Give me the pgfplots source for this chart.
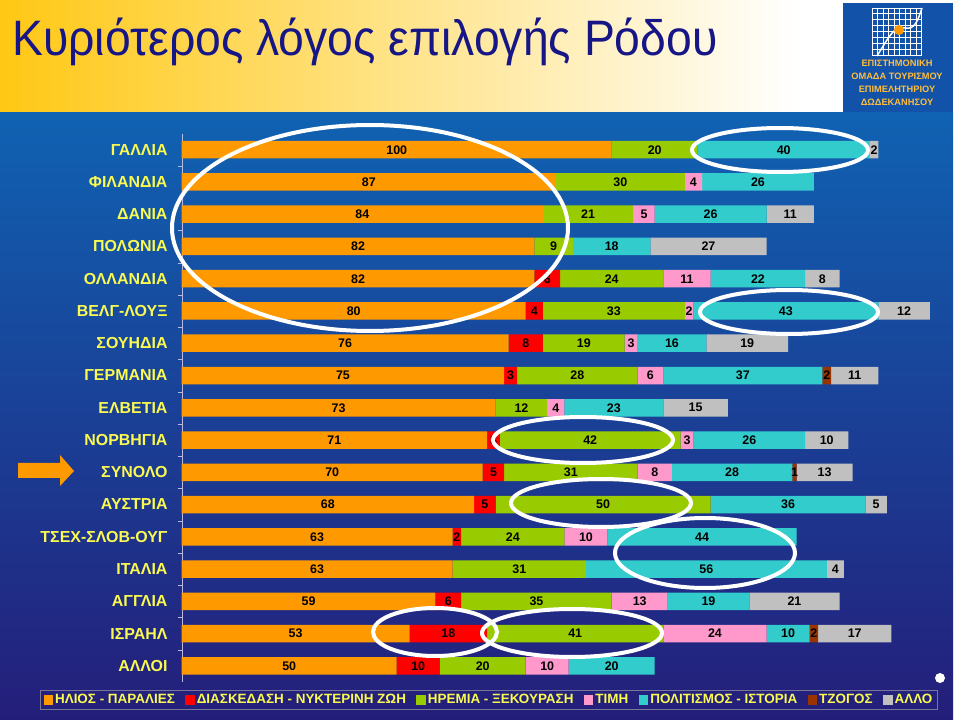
\documentclass[border=0pt]{standalone}
\usepackage{fontspec}
\setmainfont{Liberation Sans}
\usepackage{graphicx}
\usepackage{pgfplots}
\usepackage{pgfplotstable}
\pgfplotsset{compat=1.18}
\definecolor{sunc}{HTML}{FF9900}
\definecolor{entc}{HTML}{FF0000}
\definecolor{calmc}{HTML}{99CC00}
\definecolor{pricec}{HTML}{FF99CC}
\definecolor{cultc}{HTML}{33CCCC}
\definecolor{gambc}{HTML}{993300}
\definecolor{otherc}{HTML}{C0C0C0}
\definecolor{labyel}{RGB}{250,250,80}
\definecolor{titleblue}{RGB}{22,22,135}
\definecolor{bgtop}{RGB}{16,98,178}
\definecolor{bgbot}{RGB}{36,30,122}
\definecolor{logoblue}{RGB}{18,82,168}
\definecolor{logotext}{RGB}{255,190,60}
\pgfplotstableread{
idx sun ent calm price cult gamb other
0 100 0 20 0 40 0 2
1 87 0 30 4 26 0 0
2 84 0 21 5 26 0 11
3 82 0 9 0 18 0 27
4 82 6 24 11 22 0 8
5 80 4 33 2 43 0 12
6 76 8 19 3 16 0 19
7 75 3 28 6 37 2 11
8 73 0 12 4 23 0 15
9 71 3 42 3 26 0 10
10 70 5 31 8 28 1 13
11 68 5 50 0 36 0 5
12 63 2 24 10 44 0 0
13 63 0 31 0 56 0 4
14 59 6 35 13 19 0 21
15 53 18 41 24 10 2 17
16 50 10 20 10 20 0 0
}\data
\begin{document}
\begin{tikzpicture}
\useasboundingbox (0bp,0bp) rectangle (960bp,720bp);
\begin{scope}[x=1bp,y=1bp]
\fill[white] (0,0) rectangle (960,720);
\shade[left color={rgb,255:red,255;green,200;blue,20}, right color=white] (0,607) rectangle (800,720);
\shade[top color=bgtop, bottom color=bgbot] (0,0) rectangle (953,607);
% logo
\fill[logoblue] (843,608) rectangle (953,717);
\begin{scope}[white, line width=0.5bp]
\foreach \i in {0,...,9} {\draw (872+5.5*\i,665) -- (872+5.5*\i,712);}
\foreach \j in {0,...,8} {\draw (872,665+5.9*\j) -- (922,665+5.9*\j);}
\end{scope}
\draw[white, line width=1.5bp] (877,664) .. controls (890,685) and (895,695) .. (905,692) .. controls (915,690) and (918,700) .. (922,712);
\fill[sunc] (899,690) circle (5);
\node[logotext, font=\bfseries\fontsize{9.3}{13}\selectfont, align=center, inner sep=0pt] at (897,637) {ΕΠΙΣΤΗΜΟΝΙΚΗ\\ΟΜΑΔΑ ΤΟΥΡΙΣΜΟΥ\\ΕΠΙΜΕΛΗΤΗΡΙΟΥ\\ΔΩΔΕΚΑΝΗΣΟΥ};
% title
\node[anchor=base west, inner sep=0pt, text=titleblue, font=\fontsize{50}{50}\selectfont] at (12,664) {\scalebox{0.93}[1]{Κυριότερος λόγος επιλογής Ρόδου}};
\end{scope}
\begin{axis}[
  at={(181.7bp,38.1bp)}, anchor=south west,
  scale only axis, width=763.3bp, height=548.3bp,
  xbar stacked, bar width=17.5bp,
  xmin=0, xmax=177.5, ymin=-0.5, ymax=16.5,
  y dir=reverse,
  hide x axis,
  axis y line*=left,
  axis line style={draw=gray!60!blue!40},
  ytick={0,...,16},
  yticklabels={ΓΑΛΛΙΑ,ΦΙΛΑΝΔΙΑ,ΔΑΝΙΑ,ΠΟΛΩΝΙΑ,ΟΛΛΑΝΔΙΑ,ΒΕΛΓ-ΛΟΥΞ,ΣΟΥΗΔΙΑ,ΓΕΡΜΑΝΙΑ,ΕΛΒΕΤΙΑ,ΝΟΡΒΗΓΙΑ,ΣΥΝΟΛΟ,ΑΥΣΤΡΙΑ,ΤΣΕΧ-ΣΛΟΒ-ΟΥΓ,ΙΤΑΛΙΑ,ΑΓΓΛΙΑ,ΙΣΡΑΗΛ,ΑΛΛΟΙ},
  yticklabel style={text=labyel, font=\bfseries\fontsize{16}{16}\selectfont, inner sep=0pt, xshift=-14bp},
  major tick length=0pt,
  minor y tick num=1, minor tick length=4bp, tick align=outside,
  minor tick style={draw=gray!60!blue!40},
  point meta=explicit symbolic,
  nodes near coords={\ifnum\pgfplotspointmeta=0 \else\pgfplotspointmeta\fi},
  every node near coord/.append style={anchor=center, font=\bfseries\fontsize{12.5}{12.5}\selectfont, text=black, inner sep=0pt},
  legend columns=-1,
  legend style={at={(0.4026,-0.033)}, anchor=center, draw={rgb,255:red,120;green,120;blue,150}, line width=0.5bp, fill=none, text=labyel, font=\bfseries\fontsize{13.5}{14}\selectfont, inner xsep=3bp, inner ysep=2bp, /tikz/every even column/.append style={column sep=8.5bp}},
  legend image code/.code={\path[#1, draw=none] (0bp,-4.5bp) rectangle (9.5bp,5bp);},
]
\addplot[fill=sunc, draw=none] table[x=sun, y=idx, meta=sun] {\data};
\addlegendentry{ΗΛΙΟΣ - ΠΑΡΑΛΙΕΣ}
\addplot[fill=entc, draw=none] table[x=ent, y=idx, meta=ent] {\data};
\addlegendentry{ΔΙΑΣΚΕΔΑΣΗ - ΝΥΚΤΕΡΙΝΗ ΖΩΗ}
\addplot[fill=calmc, draw=none] table[x=calm, y=idx, meta=calm] {\data};
\addlegendentry{ΗΡΕΜΙΑ - ΞΕΚΟΥΡΑΣΗ}
\addplot[fill=pricec, draw=none] table[x=price, y=idx, meta=price] {\data};
\addlegendentry{ΤΙΜΗ}
\addplot[fill=cultc, draw=none] table[x=cult, y=idx, meta=cult] {\data};
\addlegendentry{ΠΟΛΙΤΙΣΜΟΣ - ΙΣΤΟΡΙΑ}
\addplot[fill=gambc, draw=none] table[x=gamb, y=idx, meta=gamb] {\data};
\addlegendentry{ΤΖΟΓΟΣ}
\addplot[fill=otherc, draw=none] table[x=other, y=idx, meta=other] {\data};
\addlegendentry{ΑΛΛΟ}
\end{axis}
\begin{scope}[x=1bp,y=1bp]
\begin{scope}[white, line width=4bp]
\draw (370,492) ellipse (198 and 103);
\draw (780,570) ellipse (88 and 22);
\draw (789,408) ellipse (89 and 22);
\draw (583,280) ellipse (90 and 23);
\draw (601,217) ellipse (90 and 24);
\draw (705,167) ellipse (90 and 35);
\draw (435,88) ellipse (62 and 24);
\draw (572,87) ellipse (90 and 24);
\end{scope}
\fill[white] (940,42) circle (5);
\fill[sunc] (18,257) -- (60,257) -- (60,265) -- (74,249) -- (60,234) -- (60,242) -- (18,242) -- cycle;
\end{scope}
\end{tikzpicture}
\end{document}
